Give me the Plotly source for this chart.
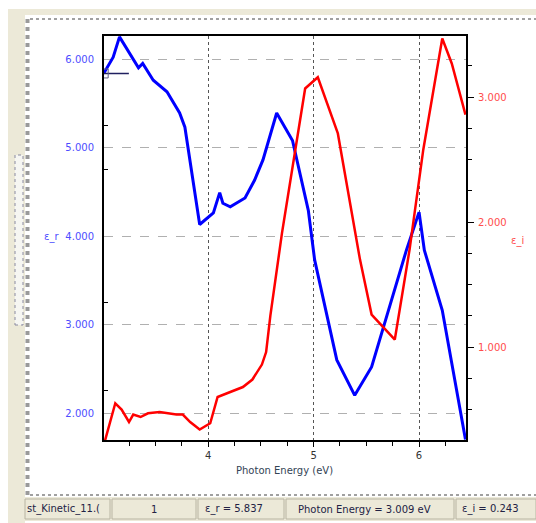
import plotly.graph_objects as go

# ---- data ----
energy_r = [3.01, 3.10, 3.16, 3.34, 3.38, 3.48, 3.61, 3.73, 3.78, 3.92, 4.05, 4.11, 4.14,
            4.21, 4.35, 4.44, 4.52, 4.65, 4.80, 4.95, 5.01, 5.22, 5.39, 5.55, 5.88, 6.00,
            6.05, 6.22, 6.44]
eps_r = [5.837, 6.02, 6.25, 5.90, 5.95, 5.76, 5.63, 5.39, 5.23, 4.13, 4.26, 4.49, 4.37,
         4.33, 4.43, 4.63, 4.86, 5.39, 5.08, 4.29, 3.73, 2.60, 2.20, 2.52, 3.84, 4.27,
         3.84, 3.16, 1.70]

energy_i = [3.02, 3.12, 3.18, 3.25, 3.29, 3.36, 3.43, 3.54, 3.70, 3.76, 3.83, 3.92, 4.02,
            4.09, 4.18, 4.33, 4.42, 4.51, 4.55, 4.59, 4.70, 4.92, 5.04, 5.23, 5.44, 5.55,
            5.77, 5.91, 6.04, 6.22, 6.31, 6.44]
eps_i = [0.243, 0.55, 0.50, 0.40, 0.46, 0.44, 0.47, 0.48, 0.46, 0.46, 0.40, 0.34, 0.39,
         0.60, 0.63, 0.68, 0.74, 0.86, 0.96, 1.25, 1.91, 3.07, 3.16, 2.71, 1.70, 1.26,
         1.06, 1.78, 2.58, 3.47, 3.27, 2.86]

status_texts = ["st_Kinetic_11.(", "1", "ε_r = 5.837", "Photon Energy = 3.009 eV", "ε_i = 0.243"]

W, H = 536, 523
FONT = "DejaVu Sans"


def P(x):
    return x / W


def Q(y):
    return 1 - y / H


fig = go.Figure()
fig.add_trace(go.Scatter(x=energy_r, y=eps_r, mode="lines",
                         line=dict(color="#0000ff", width=3), yaxis="y", hoverinfo="skip"))
fig.add_trace(go.Scatter(x=energy_i, y=eps_i, mode="lines",
                         line=dict(color="#ff0000", width=2.5), yaxis="y2", hoverinfo="skip"))
# cursor at first point
fig.add_trace(go.Scatter(x=[energy_r[0]], y=[eps_r[0]], mode="markers",
                         marker=dict(symbol="line-ew", size=36,
                                     line=dict(color="#202060", width=1.5)),
                         yaxis="y", hoverinfo="skip"))
fig.add_trace(go.Scatter(x=[energy_r[0]], y=[eps_r[0]], mode="markers",
                         marker=dict(symbol="square-open", size=9, color="#606080",
                                     line=dict(width=1)),
                         yaxis="y", hoverinfo="skip"))

shapes = []
beige = "#ece9d8"
# window chrome
shapes.append(dict(type="rect", xref="paper", yref="paper", x0=P(8), x1=P(536), y0=Q(15), y1=Q(9),
                   fillcolor=beige, line=dict(width=0), layer="below"))
shapes.append(dict(type="rect", xref="paper", yref="paper", x0=P(8), x1=P(25), y0=Q(523), y1=Q(9),
                   fillcolor=beige, line=dict(width=0), layer="below"))
shapes.append(dict(type="line", xref="paper", yref="paper", x0=P(27.5), x1=P(27.5), y0=Q(495), y1=Q(17),
                   line=dict(color="#9a9a9a", width=4, dash="dot")))
shapes.append(dict(type="line", xref="paper", yref="paper", x0=P(30), x1=P(536), y0=Q(19), y1=Q(19),
                   line=dict(color="#a0a0a0", width=2, dash="dot")))
shapes.append(dict(type="line", xref="paper", yref="paper", x0=P(30), x1=P(536), y0=Q(495), y1=Q(495),
                   line=dict(color="#a0a0a0", width=2, dash="dot")))
# scroll thumb
shapes.append(dict(type="rect", xref="paper", yref="paper", x0=P(15), x1=P(23), y0=Q(325), y1=Q(155),
                   fillcolor="#f6f6f2", line=dict(color="#8a8aa0", width=1, dash="dot")))
# status bar
shapes.append(dict(type="rect", xref="paper", yref="paper", x0=P(8), x1=P(536), y0=Q(521), y1=Q(497),
                   fillcolor=beige, line=dict(width=0)))
cells = [(25, 110), (112, 196), (198, 284), (286, 454), (456, 536)]
for a, b in cells:
    shapes.append(dict(type="rect", xref="paper", yref="paper", x0=P(a), x1=P(b), y0=Q(519), y1=Q(499),
                       fillcolor=beige, line=dict(color="#b8b4a2", width=1)))

annotations = []
align = ["left", "center", "left", "left", "left"]
xs = [25, 154, 203, 296, 460]
for t, x, al in zip(status_texts, xs, align):
    annotations.append(dict(text=t, x=P(x), y=Q(509), xref="paper", yref="paper",
                            xanchor="left" if al == "left" else "center", yanchor="middle",
                            showarrow=False, font=dict(family=FONT, size=10, color="#222244")))
annotations.append(dict(text="Photon Energy (eV)", x=P(284), y=Q(470), xref="paper", yref="paper",
                        xanchor="center", yanchor="middle", showarrow=False,
                        font=dict(family=FONT, size=10, color="#334455")))
annotations.append(dict(text="ε_r", x=P(51), y=Q(237), xref="paper", yref="paper",
                        xanchor="center", yanchor="middle", showarrow=False,
                        font=dict(family=FONT, size=10, color="#4d4dff")))
annotations.append(dict(text="ε_i", x=P(517), y=Q(241), xref="paper", yref="paper",
                        xanchor="center", yanchor="middle", showarrow=False,
                        font=dict(family=FONT, size=10, color="#ff4d4d")))

ydom = [Q(440), Q(36)]
fig.update_layout(
    width=W, height=H, margin=dict(l=0, r=0, t=0, b=0),
    paper_bgcolor="white", plot_bgcolor="white", showlegend=False,
    shapes=shapes, annotations=annotations,
    xaxis=dict(domain=[P(104), P(466)], range=[3.013, 6.445], tick0=0, dtick=1,
               ticks="outside", ticklen=5, tickcolor="black", tickwidth=1,
               showline=True, linecolor="black", linewidth=2, mirror=True,
               showgrid=True, gridcolor="#555555", griddash="dot", gridwidth=1,
               zeroline=False, tickfont=dict(family=FONT, size=10, color="#333333"),
               minor=dict(tick0=0, dtick=0.25, ticks="outside", ticklen=4, tickcolor="black",
                          showgrid=False),
               anchor="y"),
    yaxis=dict(domain=ydom, range=[1.695, 6.26], tick0=0, dtick=1, tickformat=".3f",
               ticks="", showline=True, linecolor="black", linewidth=2,
               showgrid=True, gridcolor="#b0b0b0", griddash="dash", gridwidth=1,
               zeroline=False, ticklabelstandoff=6,
               tickfont=dict(family=FONT, size=10, color="#4d4dff"), anchor="x"),
    yaxis2=dict(range=[0.256, 3.49], overlaying="y", side="right", anchor="x",
                tick0=0, dtick=1, tickformat=".3f", ticks="outside", ticklen=6,
                tickcolor="black", showline=True, linecolor="black", linewidth=2,
                showgrid=False, zeroline=False, ticklabelstandoff=2,
                tickfont=dict(family=FONT, size=10, color="#ff4d4d"),
                minor=dict(tick0=0, dtick=0.25, ticks="outside", ticklen=4, tickcolor="black",
                           showgrid=False)),
    yaxis3=dict(range=[1.695, 6.26], overlaying="y", side="left", anchor="x",
                tickvals=[2.25, 3.25, 4.75, 5.25], ticks="inside", ticklen=4, tickcolor="black",
                showticklabels=False, showgrid=False, showline=False, zeroline=False),
)
fig.add_trace(go.Scatter(x=[None], y=[None], yaxis="y3", hoverinfo="skip"))

fig.write_html("out.html")
